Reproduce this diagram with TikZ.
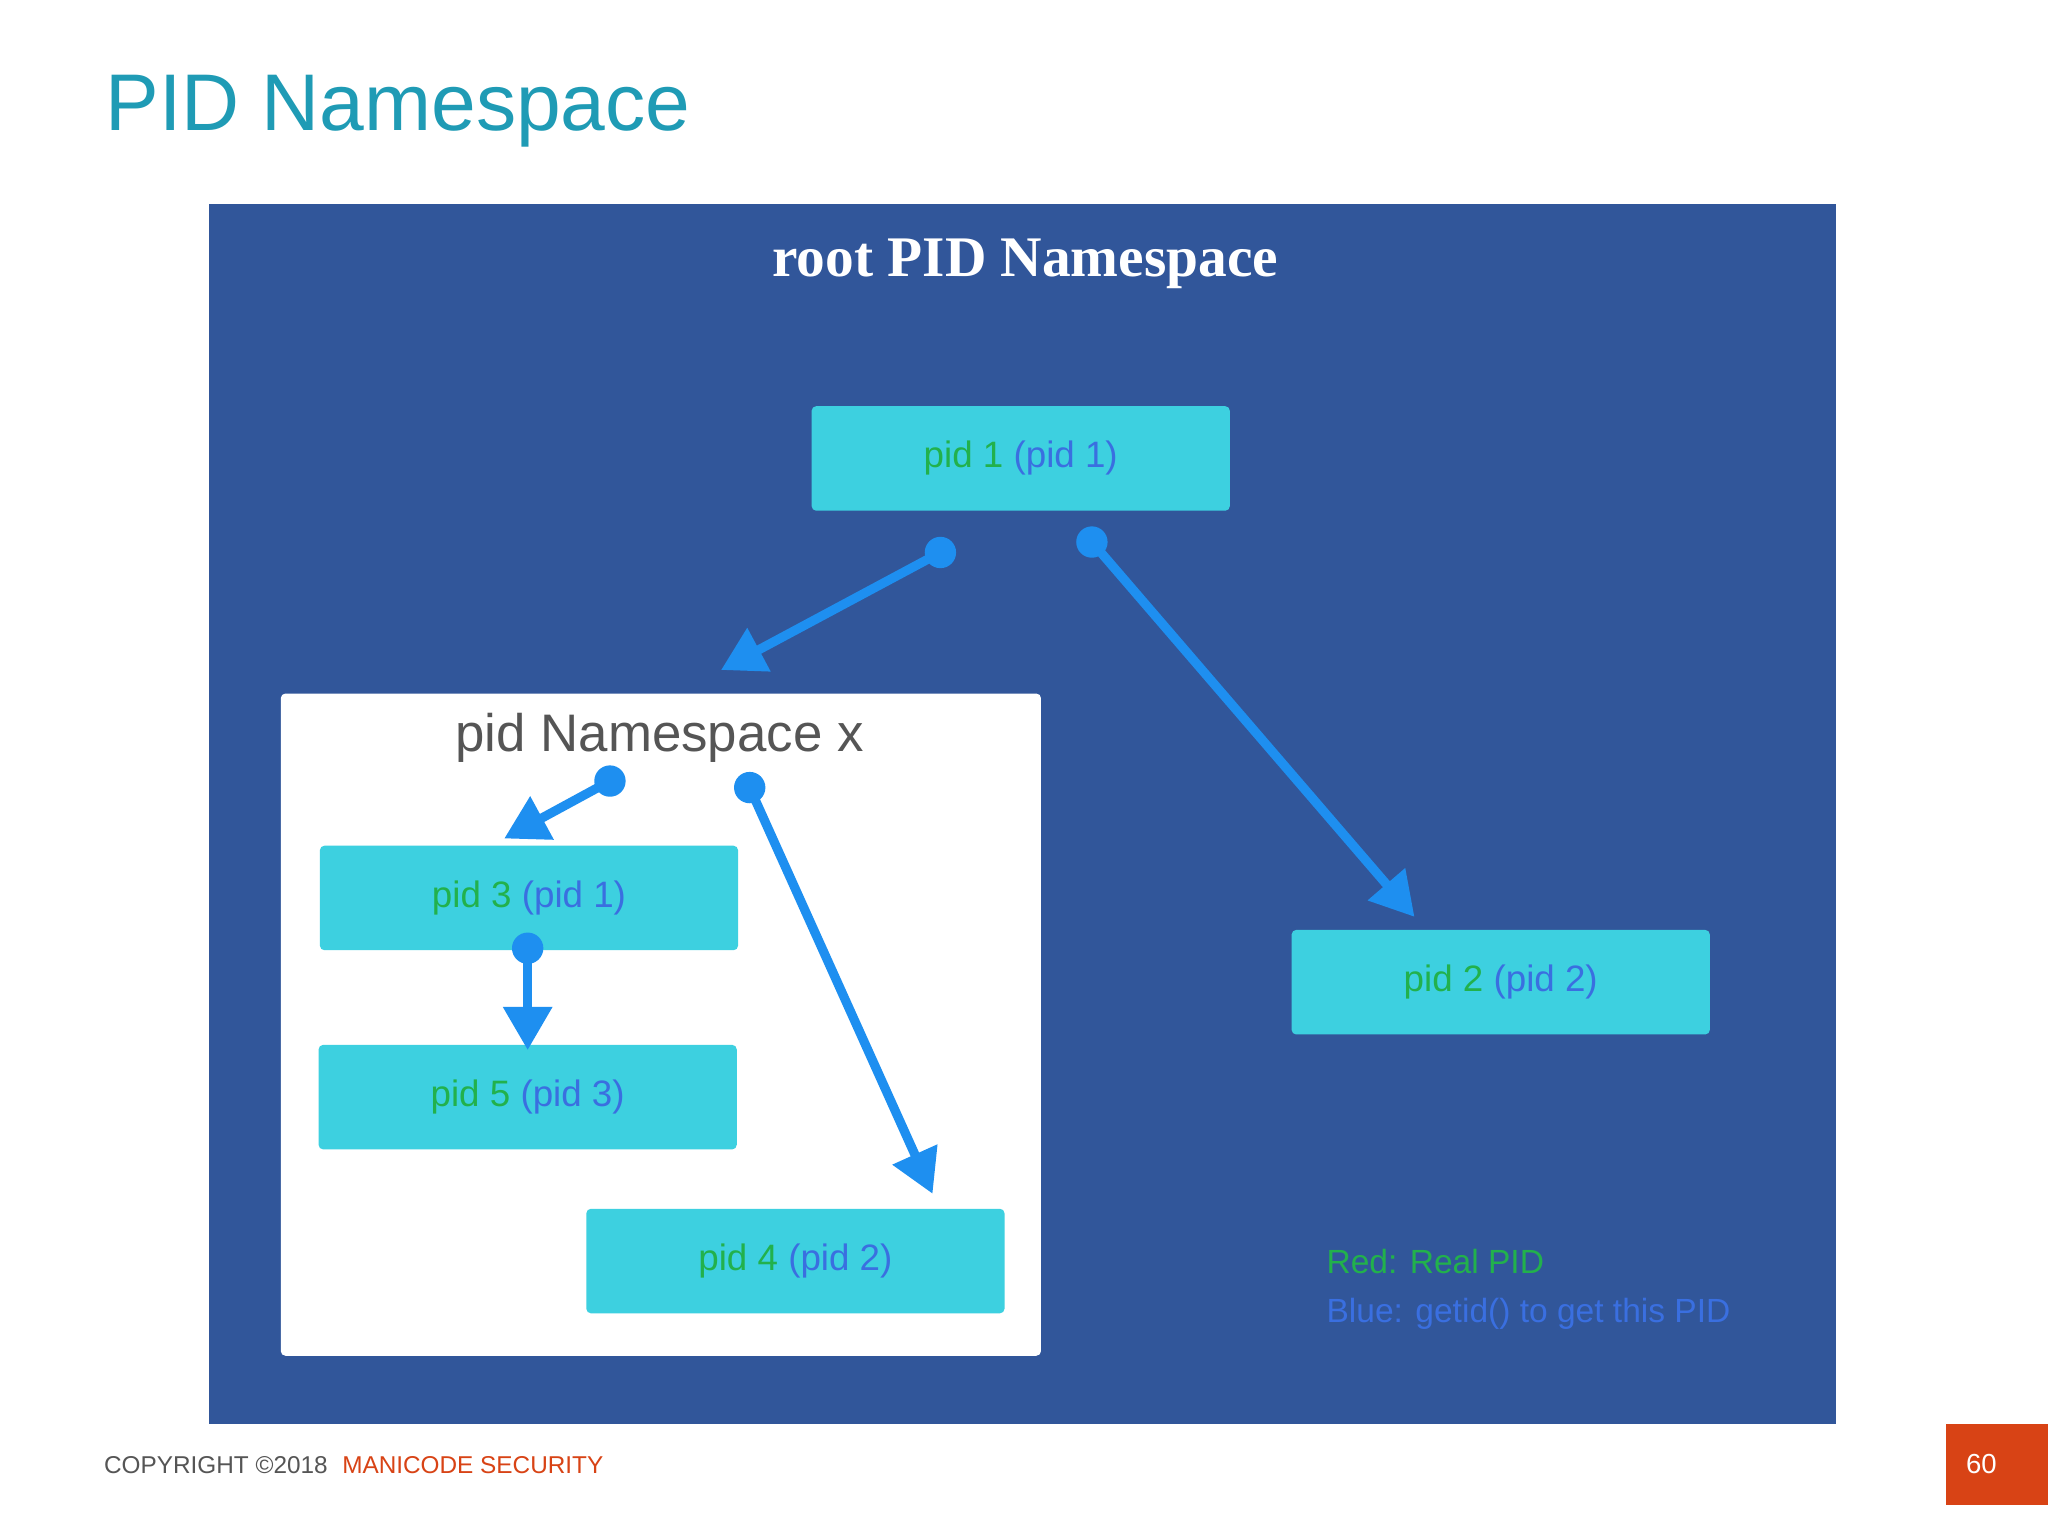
\documentclass[tikz,border=0pt]{standalone}
\usepackage{fontspec}
\setmainfont{Liberation Sans}
\newfontfamily\serifb{Liberation Serif}
\usetikzlibrary{arrows.meta}
\definecolor{teal1}{HTML}{1F9BB5}
\definecolor{panel}{HTML}{31569A}
\definecolor{cyanbox}{HTML}{3DD0E0}
\definecolor{gpid}{HTML}{22B14C}
\definecolor{bpid}{HTML}{3A6FE0}
\definecolor{arr}{HTML}{1E8FF0}
\definecolor{orng}{HTML}{D84315}
\definecolor{gtxt}{HTML}{555555}
\tikzset{
  pidbox/.style={fill=cyanbox,rounded corners=1pt,minimum width=3.2cm,minimum height=0.8cm,inner sep=0,font=\fontsize{8}{9}\selectfont},
  conn/.style={draw=arr,line width=2pt,-{Triangle[length=0.33cm,width=0.36cm]}},
  dot/.style={circle,fill=arr,inner sep=0,minimum size=0.24cm}
}
\newcommand{\pidt}[2]{\textcolor{gpid}{#1} \textcolor{bpid}{#2}}
\begin{document}
\begin{tikzpicture}[x=0.01cm,y=-0.01cm]
\useasboundingbox (0,0) rectangle (1568,1176);
\fill[white] (0,0) rectangle (1568,1176);
\node[anchor=base west,inner sep=0,text=teal1,font=\fontsize{17.5}{20}\selectfont] (title) at (80,100) {PID Namespace};
\fill[panel] (160,156) rectangle (1406,1090);
\node[text=white,font=\serifb\bfseries\fontsize{12.5}{14}\selectfont] (root) at (785,202) {root PID Namespace};
\fill[white,rounded corners=1pt] (215,531) rectangle (797,1038);
\node[text=gtxt,font=\fontsize{11.5}{13}\selectfont] (nsx) at (505,565) {pid Namespace x};
\node[pidbox] (p1) at (781.5,351) {\pidt{pid 1}{(pid 1)}};
\node[pidbox] (p3) at (405,687.5) {\pidt{pid 3}{(pid 1)}};
\node[pidbox] (p5) at (404,840) {\pidt{pid 5}{(pid 3)}};
\node[pidbox] (p4) at (609,965.5) {\pidt{pid 4}{(pid 2)}};
\node[pidbox] (p2) at (1149,752) {\pidt{pid 2}{(pid 2)}};
\node[dot] (d1) at (720,423) {};
\node[dot] (d2) at (836,415) {};
\node[dot] (d3) at (467,598) {};
\node[dot] (d4) at (574,603) {};
\node[dot] (d5) at (404,726) {};
\coordinate (e1) at (552,513);
\coordinate (e2) at (1083,702);
\coordinate (e3) at (386,642);
\coordinate (e4) at (714,914);
\coordinate (e5) at (404,804);
\draw[conn] (d1.center) -- (e1);
\draw[conn] (d2.center) -- (e2);
\draw[conn] (d3.center) -- (e3);
\draw[conn] (d4.center) -- (e4);
\draw[conn] (d5.center) -- (e5);
\node[anchor=west,inner sep=0,text=gpid,font=\fontsize{7.3}{9}\selectfont] (l1) at (1015,966) {Red: Real PID};
\node[anchor=west,inner sep=0,text=bpid,font=\fontsize{7.3}{9}\selectfont] (l2) at (1015,1006) {Blue: getid() to get this PID};
\node[anchor=west,inner sep=0,font=\fontsize{5.3}{6}\selectfont] (foot) at (79,1122) {\textcolor{gtxt}{COPYRIGHT ©2018}\hspace{0.6em}\textcolor{orng}{MANICODE SECURITY}};
\fill[orng] (1490,1090) rectangle (1568,1152);
\node[text=white,font=\fontsize{6}{7}\selectfont] (pg) at (1517,1121) {60};
\end{tikzpicture}
\end{document}
